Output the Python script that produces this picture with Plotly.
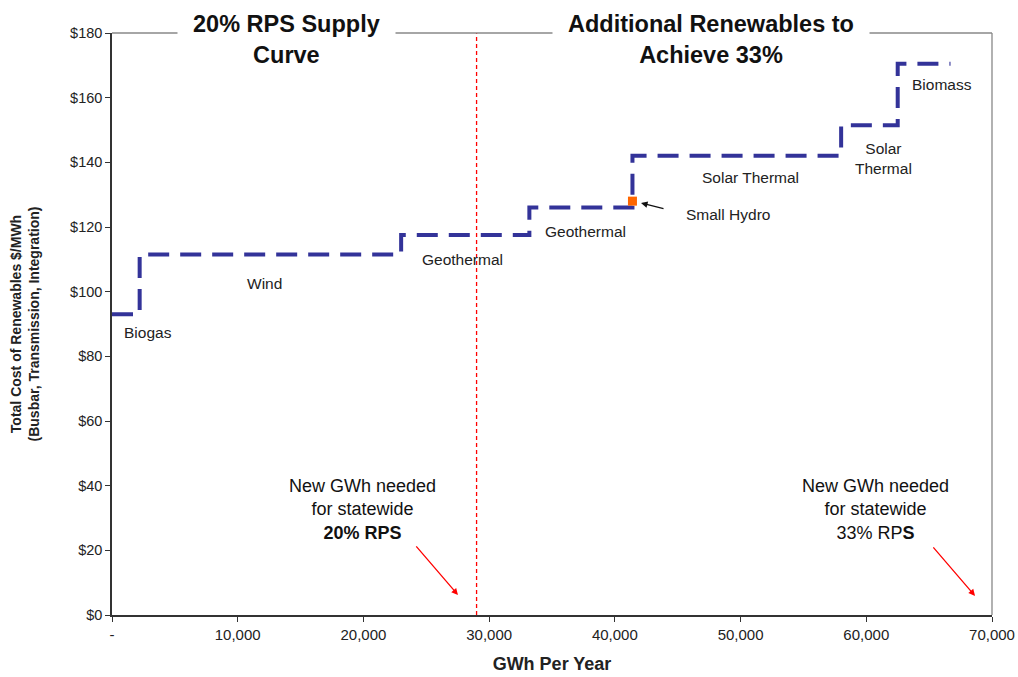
import plotly.graph_objects as go

# Step supply curve: start of each resource block (GWh) and its cost ($/MWh)
block_start_gwh = [0, 2200, 23000, 33200, 41400, 58000, 62500]
block_cost = [93, 111.5, 117.5, 126, 142, 151.5, 170.5]
curve_end_gwh = 66700

small_hydro_gwh = [41400]
small_hydro_cost = [128]

rps20_gwh = 29000

x_tickvals = [0, 10000, 20000, 30000, 40000, 50000, 60000, 70000]
x_ticktext = ["-", "10,000", "20,000", "30,000", "40,000", "50,000", "60,000", "70,000"]
y_tickvals = [0, 20, 40, 60, 80, 100, 120, 140, 160, 180]
y_ticktext = ["$" + str(v) for v in y_tickvals]

# resource labels: (text, x, y)
labels = [
    ("Biogas", 2860, 87.5),
    ("Wind", 12170, 102.4),
    ("Geothermal", 27920, 110.1),
    ("Geothermal", 37630, 118.5),
    ("Small Hydro", 49000, 124.0),
    ("Solar Thermal", 50750, 135.2),
    ("Solar<br>Thermal", 61330, 141.3),
    ("Biomass", 66030, 164.2),
]

SANS = "Liberation Sans, Arial"

xs = block_start_gwh + [curve_end_gwh]
ys = block_cost + [block_cost[-1]]

fig = go.Figure()
fig.add_trace(go.Scatter(
    x=[rps20_gwh, rps20_gwh], y=[0, 180], mode="lines",
    line=dict(color="#FF0000", width=1.3, dash="4px,3px"), hoverinfo="skip"))
fig.add_trace(go.Scatter(
    x=xs, y=ys, mode="lines", line_shape="hv",
    line=dict(color="#333399", width=4, dash="21px,11px")))
fig.add_trace(go.Scatter(
    x=small_hydro_gwh, y=small_hydro_cost, mode="markers",
    marker=dict(symbol="square", size=9, color="#FF6600")))

ann = []
for t, x, y in labels:
    ann.append(dict(x=x, y=y, text=t, showarrow=False,
                    font=dict(family=SANS, size=15.5, color="#222")))
# small hydro arrow
ann.append(dict(x=42080, y=127.4, ax=24, ay=6, text="", showarrow=True,
                arrowhead=2, arrowsize=1, arrowwidth=1.3, arrowcolor="#111"))
# section titles
ann.append(dict(x=13850, y=177.9, text="<b>20% RPS Supply<br>Curve</b>", showarrow=False,
                font=dict(family=SANS, size=23.5, color="#111"), bgcolor="white",
                borderpad=15))
ann.append(dict(x=47650, y=177.9, text="<b>Additional Renewables to<br>Achieve 33%</b>", showarrow=False,
                font=dict(family=SANS, size=23.5, color="#111"), bgcolor="white",
                borderpad=15))
# needed annotations
ann.append(dict(x=19890, y=32.5, text="New GWh needed<br>for statewide<br><b>20% RPS</b>",
                showarrow=False, font=dict(family=SANS, size=18, color="#111")))
ann.append(dict(x=60700, y=32.5, text="New GWh needed<br>for statewide<br>33% RP<b>S</b>",
                showarrow=False, font=dict(family=SANS, size=18, color="#111")))
ann.append(dict(x=27520, y=6.2, ax=-43, ay=-50, text="", showarrow=True,
                arrowhead=2, arrowsize=1, arrowwidth=1.3, arrowcolor="#FF0000"))
ann.append(dict(x=68650, y=5.9, ax=-43, ay=-50, text="", showarrow=True,
                arrowhead=2, arrowsize=1, arrowwidth=1.3, arrowcolor="#FF0000"))

fig.update_layout(
    width=1018, height=677,
    margin=dict(l=112, r=26, t=33, b=62, autoexpand=False),
    plot_bgcolor="white", paper_bgcolor="white",
    showlegend=False,
    annotations=ann,
    shapes=[
        dict(type="line", xref="paper", yref="paper", x0=0, x1=1, y0=1, y1=1,
             line=dict(color="#888", width=1.3), layer="above"),
        dict(type="line", xref="paper", yref="paper", x0=1, x1=1, y0=0, y1=1,
             line=dict(color="#888", width=1.3), layer="above"),
    ],
    xaxis=dict(range=[0, 70000], tickvals=x_tickvals, ticktext=x_ticktext,
               automargin=False,
               showgrid=False, zeroline=False, showline=True, linecolor="#333",
               linewidth=1.5, ticks="outside", ticklen=5, tickcolor="#333",
               tickfont=dict(family=SANS, size=15, color="#222"),
               title=dict(text="<b>GWh Per Year</b>", font=dict(family=SANS, size=18, color="#222"),
                          standoff=16)),
    yaxis=dict(range=[0, 180], tickvals=y_tickvals, ticktext=y_ticktext,
               automargin=False,
               showgrid=False, zeroline=False, showline=True, linecolor="#333",
               linewidth=1.5, ticks="outside", ticklen=5, tickcolor="#333",
               tickfont=dict(family=SANS, size=14.5, color="#222"),
               title=dict(text="<b>Total Cost of Renewables $/MWh<br>(Busbar, Transmission, Integration)</b>",
                          font=dict(family=SANS, size=14, color="#222"), standoff=27)),
)

fig.write_html("out.html", post_script="document.body.style.margin='0';",
               config={"displayModeBar": False})
